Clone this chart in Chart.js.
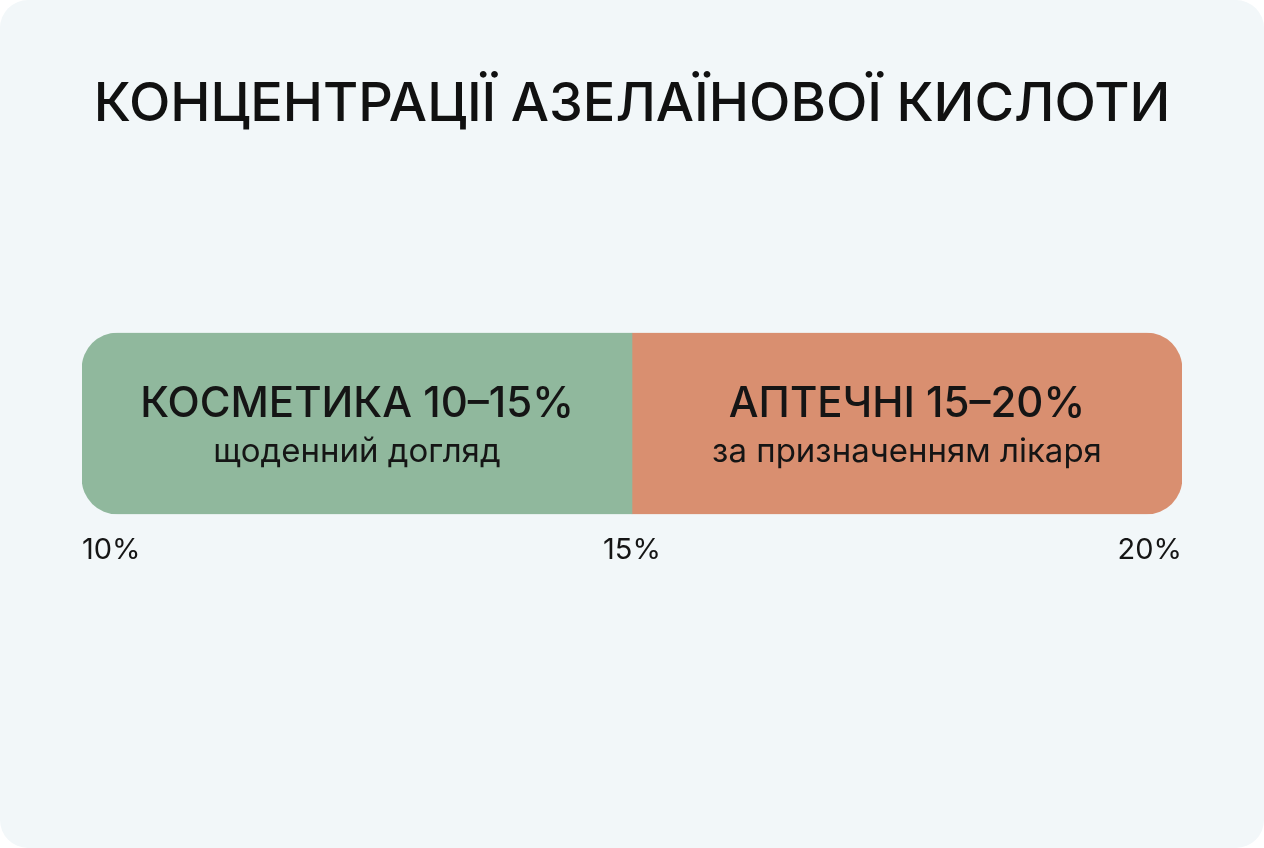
<!DOCTYPE html>
<html>
<head>
<meta charset="utf-8">
<script src="https://cdn.jsdelivr.net/npm/chart.js@4"></script>
<style>
  html, body { margin: 0; padding: 0; background: #ffffff; }
  #card { width: 1264px; height: 848px; background: #f2f7f9; border-radius: 28px; overflow: hidden; }
  canvas { display: block; }
</style>
</head>
<body>
<div id="card"><canvas id="chart" width="1264" height="848"></canvas></div>
<script>
// values
var titleText = 'КОНЦЕНТРАЦІЇ АЗЕЛАЇНОВОЇ КИСЛОТИ';
var rowLabels = ['Концентрація'];
var rangeNames = ['КОСМЕТИКА 10–15%', 'АПТЕЧНІ 15–20%'];
var rangeNotes = ['щоденний догляд', 'за призначенням лікаря'];
var rangeValues = [[10, 15], [15, 20]];
var tickValues = [10, 15, 20];
var rangeColors = ['#90b89d', '#d98f70'];

var fontFamily = 'Inter, "Noto Sans", sans-serif';

// writes the name and note in the middle of each bar
var barLabels = {
    id: 'barLabels',
    afterDatasetsDraw: function(chart) {
        var ctx = chart.ctx;
        ctx.save();
        ctx.fillStyle = '#151515';
        ctx.textAlign = 'center';
        ctx.textBaseline = 'middle';
        chart.data.datasets.forEach(function(ds, i) {
            var bar = chart.getDatasetMeta(i).data[0];
            var cx = (bar.x + bar.base) / 2;
            ctx.font = '500 42px ' + fontFamily;
            ctx.fillText(rangeNames[i], cx, bar.y - 19);
            ctx.font = '400 33px ' + fontFamily;
            ctx.fillText(rangeNotes[i], cx, bar.y + 29);
        });
        ctx.restore();
    }
};

var datasets = rangeValues.map(function(v, i) {
    var r = i === 0 ? { topLeft: 36, bottomLeft: 36, topRight: 0, bottomRight: 0 }
                    : { topLeft: 0, bottomLeft: 0, topRight: 36, bottomRight: 36 };
    return {
        label: rangeNames[i],
        data: [v],
        backgroundColor: rangeColors[i],
        borderWidth: 0,
        borderRadius: r,
        borderSkipped: false,
        barPercentage: 1,
        categoryPercentage: 1
    };
});

new Chart(document.getElementById('chart'), {
    type: 'bar',
    data: { labels: rowLabels, datasets: datasets },
    options: {
        indexAxis: 'y',
        responsive: false,
        animation: false,
        layout: { padding: { left: 82, right: 82, top: 0, bottom: 261 } },
        plugins: {
            legend: { display: false },
            tooltip: { enabled: false },
            title: {
                display: true,
                text: titleText,
                color: '#111111',
                font: { family: fontFamily, size: 54, weight: '500' },
                padding: { top: 72, bottom: 196 }
            }
        },
        scales: {
            y: { stacked: true, display: false },
            x: {
                min: 10,
                max: 20,
                grid: { display: false, drawTicks: false },
                border: { display: false },
                afterBuildTicks: function(axis) {
                    axis.ticks = tickValues.map(function(v) { return { value: v }; });
                },
                ticks: {
                    align: 'inner',
                    padding: 19,
                    color: '#151515',
                    font: { family: fontFamily, size: 29 },
                    callback: function(v) { return v + '%'; }
                }
            }
        }
    },
    plugins: [barLabels]
});
</script>
</body>
</html>
